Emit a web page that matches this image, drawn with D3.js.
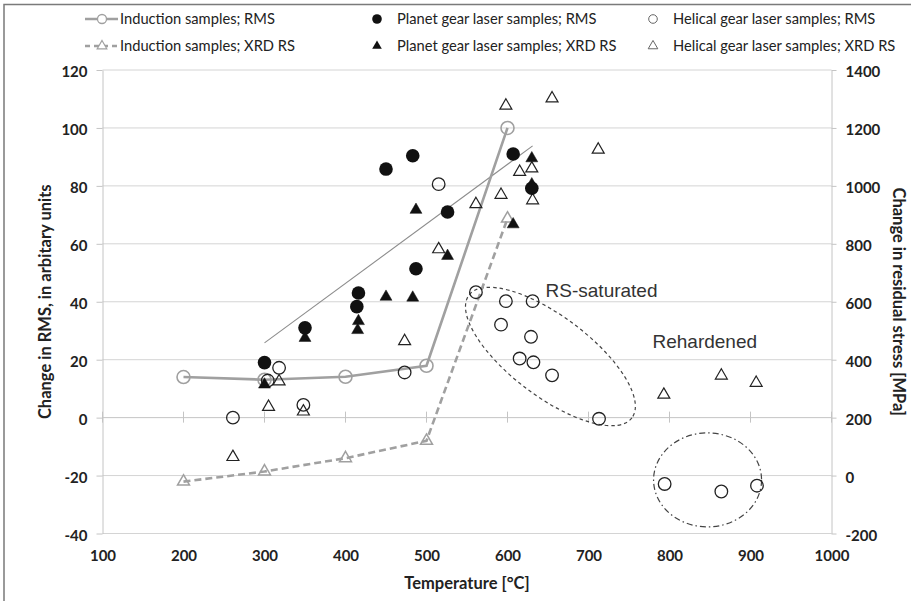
<!DOCTYPE html>
<html lang="en">
<head>
<meta charset="UTF-8">
<title>RMS and residual stress vs temperature</title>
<script src="https://d3js.org/d3.v7.min.js"></script>
<style>
  body { margin: 0; background: #fff; }
  svg { display: block; }
  .tick text { font-family: Lato, "Open Sans", sans-serif; font-weight: bold; font-size: 15px; fill: #222; }
  .legend text { font-family: Lato, "Open Sans", sans-serif; font-size: 14.7px; fill: #222; }
  .title { font-family: Lato, "Open Sans", sans-serif; font-weight: bold; font-size: 16.5px; fill: #222; }
  .note { font-family: "Liberation Sans", Arial, sans-serif; font-size: 19px; fill: #333; }
</style>
</head>
<body>
<div id="chart"></div>
<script>
// --- data ---
const xTicks = [100, 200, 300, 400, 500, 600, 700, 800, 900, 1000];
const leftTicks = [-40, -20, 0, 20, 40, 60, 80, 100, 120];
const rightTicks = [-200, 0, 200, 400, 600, 800, 1000, 1200, 1400];

// induction samples (line + markers)
const inductionT = [200, 300, 400, 500, 600];
const inductionRMS = [14, 13.1, 14.1, 17.9, 100];   // left axis
const inductionRS = [-21, 14, 60, 120, 887];          // right axis, MPa

// planet gear laser samples
const planetRmsT = [300, 350, 414, 416, 450, 483, 487, 526, 607, 630];
const planetRms = [19, 31, 38.3, 43, 85.8, 90.4, 51.4, 71, 91, 79.2];
const planetRsT = [300, 350, 415, 416, 450, 483, 487, 526, 607, 630, 630];
const planetRs = [314, 475, 502, 533, 617, 614, 917, 758, 867, 1095, 1005];

// helical gear laser samples
const helicalRmsT = [261, 304, 318, 348, 473, 515, 561, 598, 631, 592, 629, 615, 632, 655, 713, 794, 864, 908];
const helicalRms = [0, 12.8, 17.2, 4.4, 15.6, 80.6, 43.3, 40.2, 40.2, 32.1, 27.9, 20.4, 19.1, 14.6, -0.4, -22.9, -25.5, -23.5];
const helicalRsT = [261, 305, 318, 348, 473, 598, 655, 712, 615, 630, 631, 592, 561, 515, 793, 864, 907];
const helicalRs = [64, 237, 325, 221, 464, 1277, 1302, 1125, 1048, 1060, 950, 969, 937, 781, 279, 345, 320];

// thin trend line
const trendT = [300, 631];
const trendV = [25.8, 93.8];

// annotations
const notes = [
  { text: "RS-saturated", t: 647, v: 41.8 },
  { text: "Rehardened", t: 779, v: 24.2 }
];
const zones = [
  { t: 653, v: 21.1, rx: 102, ry: 40, angle: 37, dash: "3.5,3" },
  { t: 847, v: -21.5, rx: 54, ry: 47, angle: 0, dash: "6,3,1.5,3" }
];

const legendItems = [
  { label: "Induction samples; RMS", kind: "indRms" },
  { label: "Induction samples; XRD RS", kind: "indRs" },
  { label: "Planet gear laser samples; RMS", kind: "pRms" },
  { label: "Planet gear laser samples; XRD RS", kind: "pRs" },
  { label: "Helical gear laser samples; RMS", kind: "hRms" },
  { label: "Helical gear laser samples; XRD RS", kind: "hRs" }
];

const width = 911, height = 601;
const svg = d3.select("#chart").append("svg")
  .attr("width", width).attr("height", height);

const x = d3.scaleLinear().domain([100, 1000]).range([102.5, 831.5]);
const yL = d3.scaleLinear().domain([-40, 120]).range([533.5, 70]);
const yR = d3.scaleLinear().domain([-200, 1400]).range([533.5, 70]);
const plain = d => String(d);

// outer frame (top and left edges visible)
svg.append("path").attr("d", `M4,${height} V4.5 H${width}`)
  .attr("fill", "none").attr("stroke", "#7a7a7a").attr("stroke-width", 1.5);

// grid
svg.append("g").selectAll("line").data(leftTicks.filter(d => d !== 0)).join("line")
  .attr("x1", x(100)).attr("x2", x(1000))
  .attr("y1", d => yL(d)).attr("y2", d => yL(d))
  .attr("stroke", "#d4d4d4").attr("stroke-width", 1);

// left axis
const gl = svg.append("g").attr("transform", `translate(${x(100)},0)`)
  .call(d3.axisLeft(yL).tickValues(leftTicks).tickFormat(plain)
    .tickSize(6).tickPadding(9).tickSizeOuter(0));
// right axis
const gr = svg.append("g").attr("transform", `translate(${x(1000)},0)`)
  .call(d3.axisRight(yR).tickValues(rightTicks).tickFormat(plain)
    .tickSize(5).tickPadding(9).tickSizeOuter(0));
[gl, gr].forEach(g => {
  g.select(".domain").attr("stroke", "#c4c4c4");
  g.selectAll(".tick line").attr("stroke", "#c4c4c4");
  g.selectAll(".tick text").attr("dy", "0.45em");
});

// x axis line at zero with crossing ticks
const y0 = yL(0);
svg.append("line").attr("x1", x(100)).attr("x2", x(1000))
  .attr("y1", y0).attr("y2", y0).attr("stroke", "#c4c4c4");
svg.append("g").selectAll("line").data(xTicks).join("line")
  .attr("x1", d => x(d)).attr("x2", d => x(d))
  .attr("y1", y0 - 6).attr("y2", y0 + 5).attr("stroke", "#c4c4c4");

// x tick labels at the bottom
const gb = svg.append("g").attr("transform", `translate(0,${yL(-40)})`)
  .call(d3.axisBottom(x).tickValues(xTicks).tickFormat(plain).tickSize(0).tickPadding(17));
gb.select(".domain").remove();

// axis titles
svg.append("text").attr("class", "title").attr("text-anchor", "middle")
  .attr("x", x(550)).attr("y", 589).text("Temperature [°C]");
svg.append("text").attr("class", "title").attr("text-anchor", "middle")
  .attr("transform", `translate(51,${yL(40)}) rotate(-90)`)
  .text("Change in RMS, in arbitary units");
svg.append("text").attr("class", "title").attr("text-anchor", "middle")
  .attr("transform", `translate(893,${yL(40)}) rotate(90)`)
  .text("Change in residual stress [MPa]");

// annotation ellipses
svg.append("g").selectAll("ellipse").data(zones).join("ellipse")
  .attr("transform", d => `translate(${x(d.t)},${yL(d.v)}) rotate(${d.angle})`)
  .attr("rx", d => d.rx).attr("ry", d => d.ry)
  .attr("fill", "none").attr("stroke", "#444").attr("stroke-width", 1.2)
  .attr("stroke-dasharray", d => d.dash);

svg.append("g").selectAll("text").data(notes).join("text")
  .attr("class", "note").attr("x", d => x(d.t)).attr("y", d => yL(d.v)).text(d => d.text);

// trend line
svg.append("line")
  .attr("x1", x(trendT[0])).attr("y1", yL(trendV[0]))
  .attr("x2", x(trendT[1])).attr("y2", yL(trendV[1]))
  .attr("stroke", "#8c8c8c").attr("stroke-width", 1.1);

// induction lines
const indRmsPts = inductionT.map((t, i) => [x(t), yL(inductionRMS[i])]);
const indRsPts = inductionT.map((t, i) => [x(t), yR(inductionRS[i])]);
svg.append("path").attr("d", d3.line()(indRsPts))
  .attr("fill", "none").attr("stroke", "#a0a0a0").attr("stroke-width", 2.6)
  .attr("stroke-dasharray", "7,4");
svg.append("path").attr("d", d3.line()(indRmsPts))
  .attr("fill", "none").attr("stroke", "#a0a0a0").attr("stroke-width", 2.6);

const tri = d3.symbol().type(d3.symbolTriangle).size(62);
const triSmall = d3.symbol().type(d3.symbolTriangle).size(40);

function circles(pts, r, fill, stroke, sw) {
  svg.append("g").selectAll("circle").data(pts).join("circle")
    .attr("cx", d => d[0]).attr("cy", d => d[1]).attr("r", r)
    .attr("fill", fill).attr("stroke", stroke).attr("stroke-width", sw);
}
function triangles(pts, fill, stroke, sw) {
  svg.append("g").selectAll("path").data(pts).join("path")
    .attr("transform", d => `translate(${d[0]},${d[1]})`).attr("d", tri)
    .attr("fill", fill).attr("stroke", stroke).attr("stroke-width", sw);
}

circles(indRmsPts, 6.5, "none", "#a0a0a0", 1.6);
triangles(indRsPts, "none", "#a0a0a0", 1.5);

triangles(helicalRsT.map((t, i) => [x(t), yR(helicalRs[i])]), "none", "#222", 1.2);
circles(helicalRmsT.map((t, i) => [x(t), yL(helicalRms[i])]), 6.3, "none", "#222", 1.3);
triangles(planetRsT.map((t, i) => [x(t), yR(planetRs[i])]), "#111", "#111", 0.5);
circles(planetRmsT.map((t, i) => [x(t), yL(planetRms[i])]), 6.8, "#111", "none", 0);

// legend
const legendPos = [
  { mx: 102, tx: 120, y: 19 }, { mx: 102, tx: 120, y: 46 },
  { mx: 377, tx: 397, y: 19 }, { mx: 377, tx: 397, y: 46 },
  { mx: 653, tx: 673, y: 19 }, { mx: 653, tx: 673, y: 46 }
];
const lg = svg.append("g").attr("class", "legend");
legendItems.forEach((it, i) => {
  const p = legendPos[i];
  const g = lg.append("g");
  if (it.kind === "indRms" || it.kind === "indRs") {
    g.append("line").attr("x1", p.mx - 17).attr("x2", p.mx + 16).attr("y1", p.y).attr("y2", p.y)
      .attr("stroke", "#a0a0a0").attr("stroke-width", 2.4)
      .attr("stroke-dasharray", it.kind === "indRs" ? "5,4" : null);
    if (it.kind === "indRms") {
      g.append("circle").attr("cx", p.mx).attr("cy", p.y).attr("r", 4.5)
        .attr("fill", "#fff").attr("stroke", "#a0a0a0").attr("stroke-width", 1.3);
    } else {
      g.append("path").attr("transform", `translate(${p.mx},${p.y})`).attr("d", triSmall)
        .attr("fill", "#fff").attr("stroke", "#a0a0a0").attr("stroke-width", 1.2);
    }
  } else if (it.kind === "pRms") {
    g.append("circle").attr("cx", p.mx).attr("cy", p.y).attr("r", 4.8).attr("fill", "#111");
  } else if (it.kind === "pRs") {
    g.append("path").attr("transform", `translate(${p.mx},${p.y})`).attr("d", triSmall).attr("fill", "#111");
  } else if (it.kind === "hRms") {
    g.append("circle").attr("cx", p.mx).attr("cy", p.y).attr("r", 4.3)
      .attr("fill", "none").attr("stroke", "#666").attr("stroke-width", 1);
  } else {
    g.append("path").attr("transform", `translate(${p.mx},${p.y})`).attr("d", triSmall)
      .attr("fill", "none").attr("stroke", "#666").attr("stroke-width", 1);
  }
  g.append("text").attr("x", p.tx).attr("y", p.y).attr("dy", "0.35em").text(it.label);
});
</script>
</body>
</html>
